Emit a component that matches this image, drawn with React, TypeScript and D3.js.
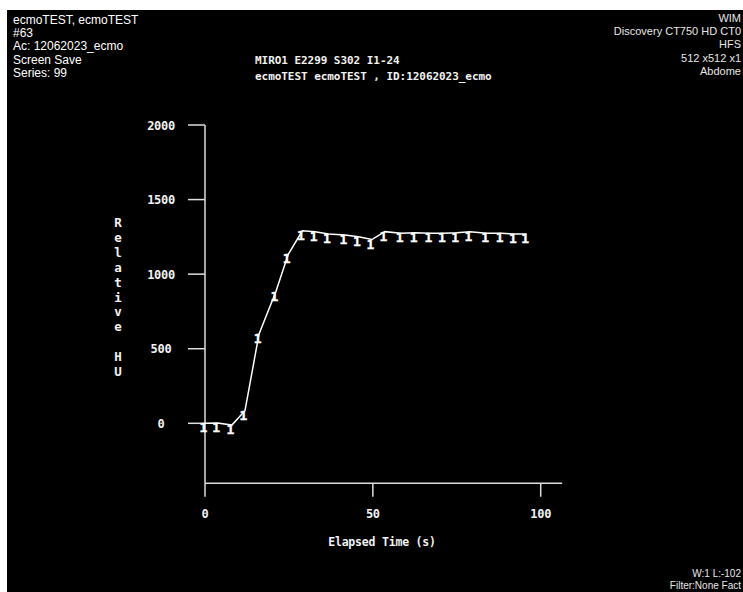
import React from "react";
import * as d3 from "d3";

const times = [0, 3.8, 8.0, 11.9, 16.1, 21.1, 24.8, 29.0, 32.8, 36.8, 41.7, 45.7, 49.7, 53.6, 58.4, 62.6, 67.0, 71.0, 75.0, 78.9, 83.9, 88.2, 92.2, 95.8];
const relHU = [0, 2, -12, 84, 599, 882, 1133, 1291, 1285, 1269, 1262, 1251, 1232, 1285, 1274, 1278, 1274, 1274, 1278, 1285, 1274, 1274, 1269, 1269];
const yTicks = [0, 500, 1000, 1500, 2000];
const xTicks = [0, 50, 100];
const headerLeft = ["ecmoTEST, ecmoTEST", "#63", "Ac: 12062023_ecmo", "Screen Save", "Series: 99"];
const headerRight = ["WIM", "Discovery CT750 HD  CT0", "HFS", "512  x512  x1", "Abdome"];
const footerRight = ["W:1 L:-102", "Filter:None Fact"];
const titleLines = ["MIRO1 E2299 S302 I1-24", "ecmoTEST ecmoTEST , ID:12062023_ecmo"];
const yTitle = "Relative HU";
const xTitle = "Elapsed Time (s)";

export default function App() {
  const W = 743, H = 592;
  const x = d3.scaleLinear().domain([0, 100]).range([205, 540.7]);
  const y = d3.scaleLinear().domain([0, 2000]).range([423.3, 125]);
  const xEnd = 106.4, yBottom = -402;
  const pts = times.map((t, i) => [x(t), y(relHU[i])] as [number, number]);
  const line = d3.line()(pts) || "";
  const mono = "'DejaVu Sans Mono', monospace";
  const sans = "'Liberation Sans', Arial, sans-serif";
  const fg = "#f2f2f2";
  return (
    <svg width={W} height={H} style={{ position: "absolute", left: 0, top: 0 }}>
      <rect x={0} y={0} width={W} height={H} fill="#fff" />
      <rect x={7} y={10} width={W - 7} height={H - 10} fill="#000" />
      {headerLeft.map((s, i) => (
        <text key={"hl" + i} x={13} y={24 + i * 13.2} fill="#fff" fontFamily={sans} fontSize={12}>{s}</text>
      ))}
      {headerRight.map((s, i) => (
        <text key={"hr" + i} x={741} y={22 + i * 13.2} fill="#e6e6e6" fontFamily={sans} fontSize={11} textAnchor="end">{s}</text>
      ))}
      {footerRight.map((s, i) => (
        <text key={"fr" + i} x={741} y={577 + i * 12} fill="#e6e6e6" fontFamily={sans} fontSize={10} textAnchor="end">{s}</text>
      ))}
      {titleLines.map((s, i) => (
        <text key={"t" + i} x={255} y={64 + i * 16} fill={fg} fontFamily={mono} fontWeight="bold" fontSize={11} letterSpacing={-0.05}>{s}</text>
      ))}
      {/* y axis */}
      <line x1={x(0)} x2={x(0)} y1={y(2000)} y2={y(yBottom)} stroke="#ddd" strokeWidth={1.5} />
      {yTicks.map((v) => (
        <g key={"yt" + v}>
          <line x1={188} x2={x(0)} y1={y(v)} y2={y(v)} stroke="#ddd" strokeWidth={1.5} />
          <text x={161} y={y(v) + 4.5} fill={fg} fontFamily={mono} fontWeight="bold" fontSize={12} textAnchor="middle" letterSpacing={-0.3}>{v}</text>
        </g>
      ))}
      {yTitle.split("").map((c, i) => (
        <text key={"yc" + i} x={118} y={227 + i * 14.9} fill={fg} fontFamily={mono} fontWeight="bold" fontSize={12.5} textAnchor="middle">{c}</text>
      ))}
      {/* x axis */}
      <line x1={x(0)} x2={x(xEnd)} y1={y(yBottom)} y2={y(yBottom)} stroke="#ddd" strokeWidth={1.5} />
      {xTicks.map((v) => (
        <g key={"xt" + v}>
          <line x1={x(v)} x2={x(v)} y1={y(yBottom)} y2={y(yBottom) + 13.5} stroke="#ddd" strokeWidth={1.5} />
          <text x={x(v)} y={517.5} fill={fg} fontFamily={mono} fontWeight="bold" fontSize={12} textAnchor="middle" letterSpacing={-0.3}>{v}</text>
        </g>
      ))}
      <text x={382} y={546} fill={fg} fontFamily={mono} fontWeight="bold" fontSize={11.5} textAnchor="middle" letterSpacing={-0.2}>{xTitle}</text>
      {/* data */}
      <path d={line} fill="none" stroke="#fff" strokeWidth={1.5} />
      {pts.map(([px, py], i) => (
        <text key={"m" + i} x={px - 1.5} y={py + 9} fill="#fff" stroke="#fff" strokeWidth={0.4} fontFamily={mono} fontWeight="bold" fontSize={13} textAnchor="middle">1</text>
      ))}
    </svg>
  );
}
